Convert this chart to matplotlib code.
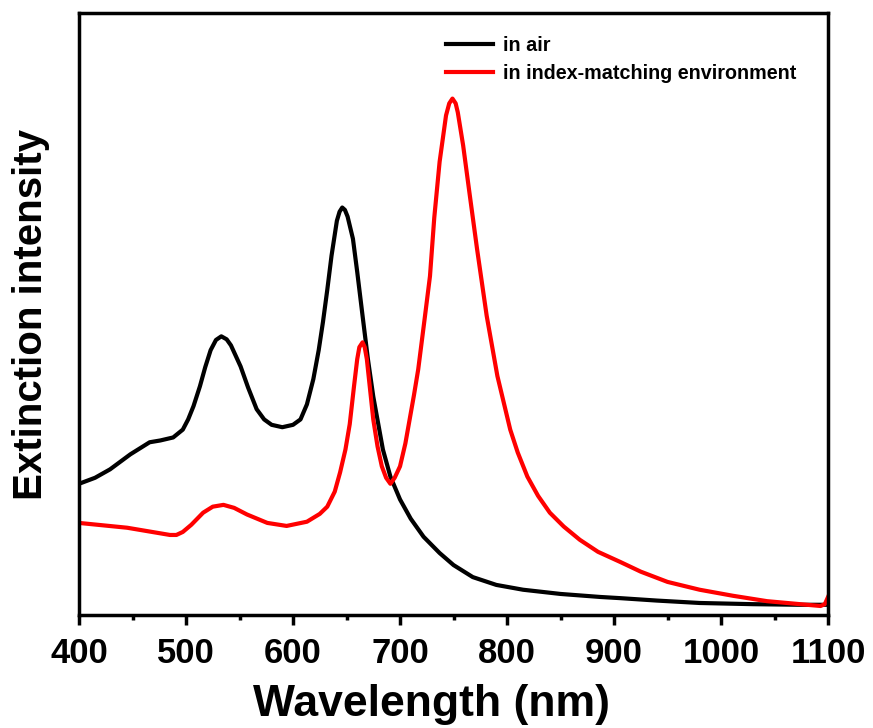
import numpy as np
import matplotlib.pyplot as plt
from matplotlib.ticker import MultipleLocator

plt.rcParams['font.family'] = ['Liberation Sans', 'DejaVu Sans']
plt.rcParams['font.weight'] = 'bold'

# spectra (arbitrary intensity units)
air_wl = [400, 415, 429, 448, 466, 476, 488, 497, 502, 507, 513, 518, 523, 528, 533,
          538, 542, 551, 558, 566, 573, 580, 590, 600, 607, 613, 619, 624, 628, 632,
          636, 641, 643.5, 646, 648.5, 651, 656, 660, 665, 670, 675, 684, 691, 700,
          710, 722, 737, 750, 768, 790, 815, 850, 887, 906, 940, 980, 1030, 1074, 1100]
air_int = [0.218, 0.228, 0.242, 0.267, 0.287, 0.290, 0.295, 0.308, 0.325, 0.347, 0.380,
           0.412, 0.440, 0.457, 0.463, 0.458, 0.448, 0.413, 0.378, 0.342, 0.325, 0.316,
           0.312, 0.316, 0.325, 0.350, 0.392, 0.440, 0.487, 0.540, 0.597, 0.655, 0.670,
           0.677, 0.673, 0.662, 0.625, 0.570, 0.497, 0.425, 0.363, 0.275, 0.230, 0.192,
           0.160, 0.130, 0.103, 0.083, 0.063, 0.050, 0.042, 0.035, 0.030, 0.028, 0.024,
           0.020, 0.018, 0.017, 0.017]

idx_wl = [400, 445, 485, 491, 497, 505, 516, 525, 535, 545, 557, 576, 594, 613, 625,
          632, 639, 644, 649, 653, 657, 660, 662, 665, 667, 669, 672, 675, 679, 683,
          687, 691, 695, 700, 705, 709, 713, 717, 723, 728, 732, 737, 743, 746, 749,
          752, 754, 759, 765, 772, 781, 791, 803, 810, 819, 829, 840, 853, 868, 885,
          906, 925, 950, 980, 1011, 1043, 1074, 1093, 1097, 1100]
idx_int = [0.153, 0.145, 0.133, 0.133, 0.138, 0.150, 0.170, 0.180, 0.183, 0.178, 0.167,
           0.153, 0.148, 0.155, 0.168, 0.180, 0.205, 0.237, 0.275, 0.317, 0.380, 0.425,
           0.445, 0.453, 0.445, 0.425, 0.375, 0.325, 0.280, 0.247, 0.228, 0.218, 0.228,
           0.247, 0.285, 0.325, 0.365, 0.408, 0.492, 0.563, 0.660, 0.753, 0.830, 0.850,
           0.858, 0.850, 0.835, 0.780, 0.700, 0.608, 0.497, 0.397, 0.308, 0.270, 0.230,
           0.198, 0.170, 0.147, 0.125, 0.105, 0.088, 0.072, 0.055, 0.042, 0.032, 0.023,
           0.018, 0.015, 0.018, 0.030]

fig = plt.figure(figsize=(8.73, 7.28), dpi=100)
ax = fig.add_axes([0.0905, 0.1552, 0.858, 0.8268])

ax.plot(air_wl, air_int, color='black', lw=3, label='in air', solid_joinstyle='round')
ax.plot(idx_wl, idx_int, color='red', lw=3, label='in index-matching environment',
        solid_joinstyle='round')

ax.set_xlim(400, 1100)
ax.set_ylim(0, 1.0)
ax.xaxis.set_major_locator(MultipleLocator(100))
ax.xaxis.set_minor_locator(MultipleLocator(50))
ax.set_yticks([])
ax.tick_params(axis='x', which='major', direction='out', length=7, width=2.5,
               labelsize=25, pad=9)
ax.tick_params(axis='x', which='minor', direction='out', length=3.5, width=2.5)
for lab in ax.get_xticklabels():
    lab.set_fontweight('bold')
for s in ax.spines.values():
    s.set_linewidth(2.5)

ax.set_xlabel('Wavelength (nm)', fontsize=32, fontweight='bold', labelpad=10, x=0.47)
ax.set_ylabel('Extinction intensity', fontsize=29, fontweight='bold', labelpad=21)

ax.legend(loc='upper left', bbox_to_anchor=(0.49, 0.962), frameon=False,
          fontsize=14.2, handlelength=2.4, handletextpad=0.5, labelspacing=0.45,
          borderpad=0, borderaxespad=0)

fig.savefig('out.png', dpi=100)
